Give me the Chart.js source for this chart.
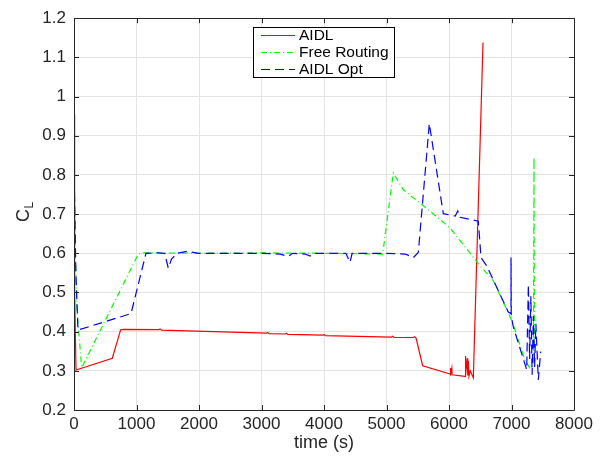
<!DOCTYPE html>
<html>
<head>
<meta charset="utf-8">
<script src="https://cdn.jsdelivr.net/npm/chart.js@4.4.0/dist/chart.umd.min.js"></script>
<style>
html,body{margin:0;padding:0;background:#fff;}
#wrap{width:604px;height:456px;position:relative;}
</style>
</head>
<body>
<div id="wrap"><canvas id="c" width="604" height="456"></canvas></div>
<script>
// ---- data ----
const xTicks = [0,1000,2000,3000,4000,5000,6000,7000,8000];
const xTickLabels = ['0','1000','2000','3000','4000','5000','6000','7000','8000'];
const yTicks = [0.2,0.3,0.4,0.5,0.6,0.7,0.8,0.9,1.0,1.1,1.2];
const yTickLabels = ['0.2','0.3','0.4','0.5','0.6','0.7','0.8','0.9','1','1.1','1.2'];
const seriesLabels = ['AIDL','Free Routing','AIDL Opt'];

const aidlTime = [0,10,32,613,747,800,1360,1376,1400,3080,3100,3120,3380,3400,3420,3980,4000,4020,5080,5100,5120,5430,5450,5472,5579,6016,6020,6030,6045,6050,6256,6260,6270,6290,6300,6310,6320,6340,6389,6544];
const aidlCL   = [0.955,0.5,0.302,0.332,0.405,0.406,0.405,0.407,0.404,0.396,0.398,0.395,0.394,0.396,0.393,0.391,0.393,0.390,0.386,0.388,0.385,0.385,0.387,0.384,0.313,0.292,0.307,0.290,0.307,0.290,0.286,0.338,0.290,0.332,0.288,0.325,0.287,0.300,0.282,1.138];

const freeTime = [0,20,50,123,1029,1100,2000,3000,4000,4939,5109,5269,5600,6016,6496,6709,7000,7216,7300,7350,7360,7368];
const freeCL   = [0.834,0.6,0.45,0.308,0.598,0.601,0.600,0.601,0.600,0.598,0.805,0.762,0.720,0.665,0.568,0.530,0.430,0.328,0.305,0.315,0.845,0.335];

const optTime = [0,30,64,912,1152,1350,1450,1509,1560,1650,1803,2000,3000,3300,3424,3500,3700,3776,3850,4350,4416,4450,5000,5300,5429,5509,5685,5909,6100,6140,6176,6469,6512,6603,6949,6992,6992,6996,7029,7243,7270,7290,7310,7330,7350,7370,7390,7429,7467];
const optCL   = [0.827,0.55,0.404,0.446,0.600,0.601,0.600,0.562,0.585,0.600,0.605,0.600,0.600,0.598,0.592,0.600,0.598,0.593,0.600,0.600,0.577,0.600,0.600,0.598,0.589,0.602,0.931,0.701,0.695,0.708,0.692,0.682,0.589,0.568,0.450,0.446,0.589,0.440,0.412,0.303,0.520,0.330,0.490,0.290,0.440,0.310,0.420,0.277,0.349];

const toPts = (xs, ys) => xs.map((x, i) => ({x: x, y: ys[i]}));

const FONT = '"Liberation Sans", Arial, Helvetica, sans-serif';
const TXT = '#262626';

const frame = {
  id: 'frame',
  afterDraw(chart) {
    const ctx = chart.ctx, a = chart.chartArea;
    const xs = chart.scales.x, ys = chart.scales.y;
    ctx.save();
    ctx.strokeStyle = TXT;
    ctx.lineWidth = 1;
    ctx.beginPath();
    ctx.rect(Math.round(a.left)+0.5, Math.round(a.top)+0.5, Math.round(a.right-a.left), Math.round(a.bottom-a.top));
    ctx.stroke();
    ctx.beginPath();
    const tl = 5;
    xTicks.forEach(v => {
      const p = Math.round(xs.getPixelForValue(v)) + 0.5;
      ctx.moveTo(p, a.bottom); ctx.lineTo(p, a.bottom - tl);
      ctx.moveTo(p, a.top); ctx.lineTo(p, a.top + tl);
    });
    yTicks.forEach(v => {
      const p = Math.round(ys.getPixelForValue(v)) + 0.5;
      ctx.moveTo(a.left, p); ctx.lineTo(a.left + tl, p);
      ctx.moveTo(a.right, p); ctx.lineTo(a.right - tl, p);
    });
    ctx.stroke();

    // axis titles
    ctx.fillStyle = TXT;
    ctx.font = '18px ' + FONT;
    ctx.textAlign = 'center';
    ctx.textBaseline = 'middle';
    ctx.fillText('time (s)', (a.left + a.right) / 2, 443);
    ctx.save();
    ctx.translate(29, 222);
    ctx.rotate(-Math.PI / 2);
    ctx.textAlign = 'left';
    ctx.textBaseline = 'alphabetic';
    ctx.font = '18px ' + FONT;
    ctx.fillText('C', 0, 0);
    const w = ctx.measureText('C').width;
    ctx.font = '12px ' + FONT;
    ctx.fillText('L', w + 0.5, 4);
    ctx.restore();

    // legend
    const lx = 253.5, ly = 27.5, lw = 141, lh = 50;
    ctx.fillStyle = '#fff';
    ctx.fillRect(lx, ly, lw, lh);
    ctx.strokeStyle = '#000';
    ctx.strokeRect(lx, ly, lw, lh);
    const rows = [35.5, 52.5, 69.5];
    chart.data.datasets.forEach((ds, i) => {
      const y = rows[i];
      ctx.save();
      ctx.strokeStyle = ds.borderColor;
      ctx.lineWidth = 1.2;
      ctx.setLineDash(ds.borderDash || []);
      ctx.beginPath();
      ctx.moveTo(261, y); ctx.lineTo(295, y);
      ctx.stroke();
      ctx.restore();
      ctx.fillStyle = '#000';
      ctx.font = '15.5px ' + FONT;
      ctx.textAlign = 'left';
      ctx.textBaseline = 'middle';
      ctx.fillText(ds.label, 299, y);
    });
    ctx.restore();
  }
};

new Chart(document.getElementById('c'), {
  type: 'line',
  data: {
    datasets: [
      {label: seriesLabels[0], data: toPts(aidlTime, aidlCL), borderColor: '#ff0000', borderWidth: 1.2, pointRadius: 0, fill: false, order: 3, tension: 0},
      {label: seriesLabels[1], data: toPts(freeTime, freeCL), borderColor: '#00ff00', borderWidth: 1.2, borderDash: [6,3,1,3], pointRadius: 0, fill: false, order: 2, tension: 0},
      {label: seriesLabels[2], data: toPts(optTime, optCL), borderColor: '#0000ff', borderWidth: 1.2, borderDash: [9,5], pointRadius: 0, fill: false, order: 1, tension: 0}
    ]
  },
  options: {
    responsive: false,
    animation: false,
    devicePixelRatio: 1,
    layout: {padding: {left: 0, right: 30, top: 16, bottom: 0}},
    plugins: {legend: {display: false}, tooltip: {enabled: false}},
    scales: {
      x: {
        type: 'linear', min: 0, max: 8000,
        afterFit(s) { s.height = 46; },
        afterBuildTicks(s) { s.ticks = xTicks.map(v => ({value: v})); },
        grid: {color: '#e3e3e3', drawTicks: false},
        border: {display: false},
        ticks: {
          padding: 4, maxRotation: 0, autoSkip: false, color: TXT,
          font: {family: FONT, size: 17},
          callback: (v) => { const i = xTicks.indexOf(v); return i >= 0 ? xTickLabels[i] : ''; }
        }
      },
      y: {
        type: 'linear', min: 0.2, max: 1.2,
        afterFit(s) { s.width = 74; },
        afterBuildTicks(s) { s.ticks = yTicks.map(v => ({value: v})); },
        grid: {color: '#e3e3e3', drawTicks: false},
        border: {display: false},
        ticks: {
          padding: 8, autoSkip: false, color: TXT,
          font: {family: FONT, size: 17},
          callback: (v) => { const i = yTicks.findIndex(t => Math.abs(t - v) < 1e-9); return i >= 0 ? yTickLabels[i] : ''; }
        }
      }
    }
  },
  plugins: [frame]
});
</script>
</body>
</html>
